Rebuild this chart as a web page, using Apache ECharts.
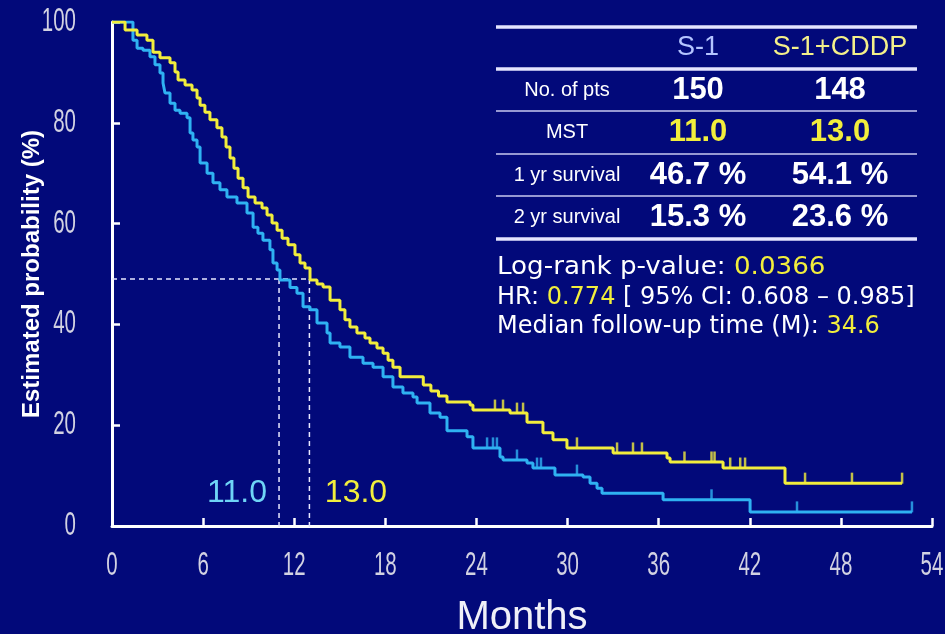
<!DOCTYPE html>
<html>
<head>
<meta charset="utf-8">
<script src="https://cdn.jsdelivr.net/npm/echarts@6/dist/echarts.min.js"></script>
<style>
html,body{margin:0;padding:0;background:#02097a;}
#chart{width:945px;height:634px;}
</style>
</head>
<body>
<div id="chart"></div>
<script>
// ---- Data ----
// S-1+CDDP (yellow) Kaplan-Meier steps: time (months) and survival (%)
const cddpTime = [0, 0.86, 1.65, 2.30, 2.70, 3.16, 3.82, 4.15, 4.35, 4.81, 5.27, 5.60, 5.80, 6.12, 6.45, 6.91, 7.24, 7.51, 7.77, 8.03, 8.30, 8.63, 8.96, 9.42, 9.88, 10.21, 10.54, 10.87, 11.20, 11.59, 12.05, 12.38, 12.71, 13.04, 13.50, 13.90, 14.36, 15.01, 15.34, 15.67, 16.13, 16.66, 16.99, 17.45, 17.85, 18.18, 18.50, 18.97, 20.50, 21.00, 21.50, 22.06, 23.58, 23.77, 26.21, 27.33, 28.38, 29.04, 29.96, 33.00, 36.55, 36.75, 40.24, 44.32, 52.03];
const cddpSurv = [100, 98.4, 97.4, 96.4, 94.0, 92.9, 91.9, 90.1, 88.5, 87.5, 86.5, 84.9, 83.5, 82.1, 80.6, 79.0, 77.2, 75.2, 73.0, 71.0, 69.0, 67.1, 65.3, 64.1, 63.1, 61.7, 60.1, 58.7, 57.1, 55.8, 53.8, 52.2, 51.2, 48.8, 48.0, 47.4, 44.8, 42.9, 40.9, 39.5, 38.3, 37.3, 36.3, 35.3, 34.3, 32.9, 31.5, 29.6, 28.0, 26.8, 25.8, 24.6, 24.0, 23.0, 22.4, 20.6, 18.5, 17.1, 15.5, 14.5, 13.5, 12.7, 11.5, 8.5, 8.5];
// S-1 (cyan) Kaplan-Meier steps
const s1Time = [0, 1.38, 1.65, 2.04, 2.50, 2.83, 3.16, 3.36, 3.49, 3.82, 4.15, 4.48, 4.94, 5.14, 5.33, 5.60, 5.80, 6.26, 6.65, 7.11, 7.57, 8.23, 8.89, 9.29, 9.61, 9.94, 10.40, 10.60, 10.87, 11.06, 11.72, 12.18, 12.58, 13.04, 13.50, 14.16, 14.36, 15.01, 15.67, 16.53, 17.19, 17.85, 18.50, 19.16, 19.82, 20.09, 20.94, 21.60, 22.06, 23.38, 23.77, 25.55, 25.75, 27.33, 27.72, 29.17, 31.02, 31.48, 31.94, 32.27, 36.29, 42.02, 52.68];
const s1Surv = [100, 96.4, 94.8, 94.4, 93.1, 91.5, 89.9, 87.9, 85.9, 83.9, 82.5, 81.9, 81.0, 78.0, 76.6, 75.2, 72.0, 70.0, 68.1, 66.7, 65.3, 64.1, 62.1, 59.3, 58.1, 56.7, 54.8, 52.2, 50.8, 48.8, 47.3, 46.2, 43.5, 42.9, 40.3, 38.3, 36.3, 35.5, 33.5, 32.3, 31.5, 29.6, 27.6, 26.4, 25.6, 24.4, 22.4, 21.6, 18.9, 17.7, 15.5, 13.7, 13.1, 12.5, 11.5, 10.1, 9.7, 8.5, 7.5, 6.5, 5.2, 2.8, 2.8];
// Censor marks
const cddpCensorTime = [25.22, 25.75, 26.67, 27.07, 30.62, 33.26, 34.31, 34.90, 37.70, 39.48, 39.68, 40.71, 41.37, 41.69, 45.64, 48.73, 52.03];
const cddpCensorSurv = [23.0, 23.0, 22.4, 22.4, 15.5, 14.5, 14.5, 14.5, 12.7, 12.7, 12.7, 11.5, 11.5, 11.5, 8.5, 8.5, 8.5];
const s1CensorTime = [24.70, 25.09, 25.35, 26.67, 27.99, 28.25, 30.62, 39.48, 45.11, 52.68];
const s1CensorSurv = [15.5, 15.5, 15.5, 13.1, 11.5, 11.5, 10.1, 5.2, 2.8, 2.8];
// Median survival
const medianLevel = 49;
const medianS1 = 11.0;
const medianCddp = 13.0;
// Axis tick labels
const xTickValues = [0, 6, 12, 18, 24, 30, 36, 42, 48, 54];
const xTickLabels = ['0', '6', '12', '18', '24', '30', '36', '42', '48', '54'];
const yTickValues = [0, 20, 40, 60, 80, 100];
const yTickLabels = ['0', '20', '40', '60', '80', '100'];
// Table
const groupNames = ['S-1', 'S-1+CDDP'];
const rowLabels = ['No. of pts', 'MST', '1 yr survival', '2 yr survival'];
const s1Values = ['150', '11.0', '46.7 %', '15.3 %'];
const cddpValues = ['148', '13.0', '54.1 %', '23.6 %'];
const logRankP = '0.0366';
const hazardRatio = '0.774';
const ciText = '[ 95% CI: 0.608 \u2013 0.985]';
const followUp = '34.6';

const YEL = '#f2ee3c';
const CYN = '#2fb2f2';
const zip = (a, b) => a.map((v, i) => [v, b[i]]);

const chart = echarts.init(document.getElementById('chart'));

const graphics = [];
// table lines
const tL = 496, tR = 917;
const lineYs = [27, 69, 111, 154, 196, 239];
const thick = [true, true, false, false, false, true];
lineYs.forEach((y, i) => {
  graphics.push({type: 'line', shape: {x1: tL, y1: y, x2: tR, y2: y},
    style: {stroke: thick[i] ? '#e4e4ff' : '#c8c8f0', lineWidth: thick[i] ? 3.5 : 1.5}, silent: true});
});
const colLabelX = 567, colS1X = 698, colCddpX = 840;
graphics.push({type: 'text', x: colS1X, y: 48, style: {text: groupNames[0], fill: '#b4c4ff', font: '27px "Liberation Sans", Arial, sans-serif', textAlign: 'center', textVerticalAlign: 'middle'}});
graphics.push({type: 'text', x: colCddpX, y: 48, style: {text: groupNames[1], fill: '#f4f08a', font: '27px "Liberation Sans", Arial, sans-serif', textAlign: 'center', textVerticalAlign: 'middle'}});
const rowYs = [90, 132, 175, 217];
rowLabels.forEach((lab, i) => {
  graphics.push({type: 'text', x: colLabelX, y: rowYs[i], style: {text: lab, fill: '#ffffff', font: '20px "Liberation Sans", Arial, sans-serif', textAlign: 'center', textVerticalAlign: 'middle'}});
  const col = i === 1 ? YEL : '#ffffff';
  graphics.push({type: 'text', x: colS1X, y: rowYs[i], style: {text: s1Values[i], fill: col, font: 'bold 31px "Liberation Sans", Arial, sans-serif', textAlign: 'center', textVerticalAlign: 'middle'}});
  graphics.push({type: 'text', x: colCddpX, y: rowYs[i], style: {text: cddpValues[i], fill: col, font: 'bold 31px "Liberation Sans", Arial, sans-serif', textAlign: 'center', textVerticalAlign: 'middle'}});
});
const infoFont = '24px "DejaVu Sans", sans-serif';
const infoLines = [
  [['Log-rank p-value: ', '#ffffff'], [logRankP, YEL]],
  [['HR: ', '#ffffff'], [hazardRatio, YEL], [' ' + ciText, '#ffffff']],
  [['Median follow-up time (M): ', '#ffffff'], [followUp, YEL]]
];
const infoYs = [268, 298, 327];
infoLines.forEach((parts, i) => {
  const rich = {};
  let txt = '';
  parts.forEach((p, j) => { rich['p' + j] = {fill: p[1], font: infoFont}; txt += '{p' + j + '|' + p[0] + '}'; });
  graphics.push({type: 'text', x: 497, y: infoYs[i], scaleX: i === 0 ? 1.09 : 1, style: {text: txt, rich: rich, font: infoFont, textVerticalAlign: 'middle', textAlign: 'left'}});
});
// median labels
graphics.push({type: 'text', x: 237, y: 493, style: {text: medianS1.toFixed(1), fill: '#6fd4f6', font: '32px "Liberation Sans", Arial, sans-serif', textAlign: 'center', textVerticalAlign: 'middle'}});
graphics.push({type: 'text', x: 356, y: 493, style: {text: medianCddp.toFixed(1), fill: YEL, font: '32px "Liberation Sans", Arial, sans-serif', textAlign: 'center', textVerticalAlign: 'middle'}});

const dashStyle = {color: '#e8e8ff', width: 1.5, type: [5, 4]};

chart.setOption({
  backgroundColor: '#02097a',
  animation: false,
  grid: {left: 112, right: 13, top: 22, bottom: 108, containLabel: false, outerBoundsMode: 'none'},
  xAxis: {
    type: 'value', min: 0, max: 54, interval: 6,
    name: 'Months', nameLocation: 'middle', nameGap: 72,
    nameTextStyle: {color: '#f0f0f8', fontSize: 40, fontFamily: '"Liberation Sans", Arial, sans-serif'},
    axisLine: {show: true, lineStyle: {color: '#ffffff', width: 3}},
    axisTick: {show: true, inside: true, length: 8, lineStyle: {color: '#ffffff', width: 2.5}},
    axisLabel: {show: false},
    splitLine: {show: false}
  },
  yAxis: {
    type: 'value', min: 0, max: 100, interval: 20,
    name: 'Estimated probability (%)', nameLocation: 'middle', nameGap: 68,
    nameTextStyle: {color: '#ffffff', fontSize: 24, fontWeight: 'bold', fontFamily: '"Liberation Sans", Arial, sans-serif'},
    axisLine: {show: true, lineStyle: {color: '#ffffff', width: 3}},
    axisTick: {show: true, inside: true, length: 8, lineStyle: {color: '#ffffff', width: 2.5}},
    axisLabel: {show: false},
    splitLine: {show: false}
  },
  graphic: graphics,
  series: [
    {type: 'line', data: [[0, medianLevel], [medianCddp, medianLevel]], symbol: 'none', lineStyle: dashStyle, silent: true, z: 1},
    {type: 'line', data: [[medianS1, medianLevel], [medianS1, -1]], symbol: 'none', lineStyle: dashStyle, clip: false, silent: true, z: 1},
    {type: 'line', data: [[medianCddp, medianLevel], [medianCddp, -1]], symbol: 'none', lineStyle: dashStyle, clip: false, silent: true, z: 1},
    {name: 'S-1', type: 'line', step: 'end', data: zip(s1Time, s1Surv), symbol: 'none', lineStyle: {color: CYN, width: 3}, z: 3},
    {name: 'S-1+CDDP', type: 'line', step: 'end', data: zip(cddpTime, cddpSurv), symbol: 'none', lineStyle: {color: YEL, width: 3}, z: 4},
    {type: 'scatter', data: zip(s1CensorTime, s1CensorSurv), symbol: 'rect', symbolSize: [2.5, 11], symbolOffset: [0, -5], itemStyle: {color: CYN}, z: 3},
    {type: 'scatter', data: zip(cddpCensorTime, cddpCensorSurv), symbol: 'rect', symbolSize: [2.5, 11], symbolOffset: [0, -5], itemStyle: {color: YEL}, z: 4}
  ]
});

// Tall, condensed tick labels placed through the axes' own scales
const tickFont = '33px "Liberation Sans", Arial, sans-serif';
const tickGraphics = [];
xTickValues.forEach((v, i) => {
  const px = chart.convertToPixel({xAxisIndex: 0}, v);
  tickGraphics.push({type: 'text', x: px, y: 566, scaleX: 0.62,
    style: {text: xTickLabels[i], fill: '#d2d2e2', font: tickFont, textAlign: 'center', textVerticalAlign: 'middle'}});
});
yTickValues.forEach((v, i) => {
  const py = chart.convertToPixel({yAxisIndex: 0}, v);
  tickGraphics.push({type: 'text', x: 76, y: py, scaleX: 0.62,
    style: {text: yTickLabels[i], fill: '#d2d2e2', font: tickFont, textAlign: 'right', textVerticalAlign: 'middle'}});
});
chart.setOption({graphic: graphics.concat(tickGraphics)});
</script>
</body>
</html>
